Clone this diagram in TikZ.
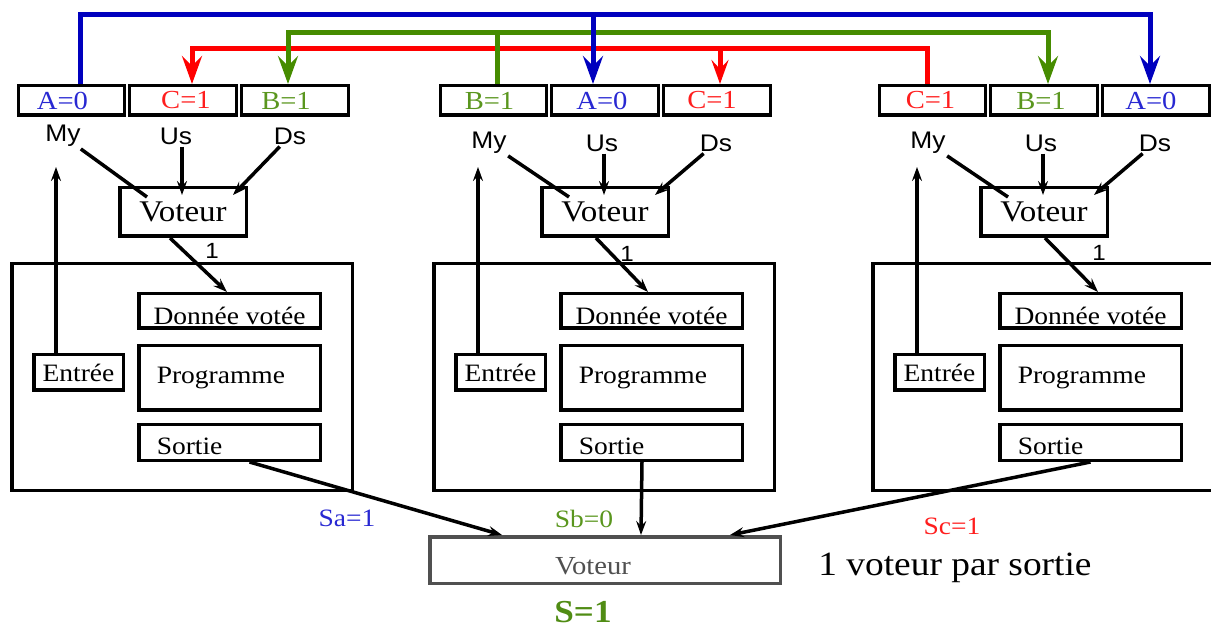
\documentclass[tikz,border=0pt]{standalone}
\usepackage{fontspec}
\setmainfont{Liberation Serif}[FakeStretch=1.1]
\newfontfamily\sansf{Liberation Sans}[FakeStretch=1.1]
\usetikzlibrary{arrows.meta}
\newcommand{\fsz}[1]{\fontsize{#1}{#1}\selectfont}
\definecolor{wblue}{RGB}{0,0,190}
\definecolor{wgreen}{RGB}{70,140,0}
\definecolor{wred}{RGB}{255,0,0}
\definecolor{tblue}{RGB}{40,40,210}
\definecolor{tgreen}{RGB}{90,150,30}
\definecolor{tred}{RGB}{255,30,30}
\definecolor{vgray}{RGB}{80,80,80}
\definecolor{sgreen}{RGB}{80,140,20}
\tikzset{
  bx/.style={draw, line width=3.5pt, inner sep=0pt},
  cell/.style={bx, minimum width=107pt, minimum height=29.5pt, font=\fsz{26}},
  lab/.style={inner sep=2pt, font=\sansf\fsz{24}},
  inner/.style={bx, minimum width=181.5pt, font=\fsz{25}},
  ln/.style={line width=3.5pt},
  arr/.style={line width=3.5pt, -{Stealth[length=14pt,width=10pt,inset=5pt]}},
  wire/.style={line width=5pt},
  bigtip/.tip={Stealth[length=28pt,width=20pt,inset=10pt]},
  midtip/.tip={Stealth[length=24pt,width=17pt,inset=9pt]},
  onelab/.style={inner sep=0pt, font=\sansf\fsz{22}},
  slab/.style={inner sep=0pt, font=\fsz{25}}
}
\newcommand{\vgroup}[7]{%
\begin{scope}[xshift=#2pt]
\node[cell, minimum width=106pt] (#1c1) at (71.5,100.5) {#5};
\node[cell] (#1c2) at (183,100.5) {#6};
\node[cell] (#1c3) at (295,100.5) {#7};
\node[lab] (#1my) at (63+#3,#4) {My};
\node[lab] (#1us) at (176+#3,#4) {Us};
\node[lab] (#1ds) at (290+#3,#4) {Ds};
\node[bx, minimum width=126.5pt, minimum height=48.5pt, font=\fsz{30}] (#1vot) at (183,212) {Voteur};
\node[bx, minimum width=340.5pt, minimum height=226.5pt] (#1main) at (182,377) {};
\node[inner, minimum height=34.5pt, text height=28pt, text depth=0pt] (#1don) at (229.5,311) {Donnée votée};
\node[inner, minimum height=64.5pt, inner xsep=18pt, text width=145.5pt, align=left] (#1prg) at (229.5,378) {Programme};
\node[inner, minimum height=35.5pt, inner xsep=18pt, text width=145.5pt, align=left, text height=24.5pt, text depth=0pt] (#1sor) at (229.5,442.5) {Sortie};
\node[bx, minimum width=89.5pt, minimum height=35.5pt, font=\fsz{25}] (#1ent) at (78.5,372.5) {Entrée};
\coordinate (#1myend) at (147,197);
\coordinate (#1usend) at (182,195);
\coordinate (#1dsend) at (233,195);
\coordinate (#1enttip) at (56,167);
\draw[ln] (#1my) -- (#1myend);
\draw[arr] (#1us.south -| #1usend) -- (#1usend);
\draw[arr] (#1ds) -- (#1dsend);
\draw[arr] (#1ent.north -| #1enttip) -- (#1enttip);
\end{scope}}
\begin{document}
\begin{tikzpicture}[x=1pt,y=-1pt]
\useasboundingbox (0,0) rectangle (1211,628);
\vgroup{ga-}{0}{0}{136}{\color{tblue}A=0\hspace*{18pt}}{\color{tred}\hspace*{6pt}C=1}{\color{tgreen}B=1\hspace*{18pt}}
\vgroup{gb-}{422}{4}{143}{\color{tgreen}B=1\hspace*{8pt}}{\color{tblue}A=0\hspace*{6pt}}{\color{tred}C=1\hspace*{10pt}}
\vgroup{gc-}{861}{4}{143}{\color{tred}C=1\hspace*{4pt}}{\color{tgreen}B=1\hspace*{6pt}}{\color{tblue}A=0\hspace*{10pt}}
% voter -> donnee votee
\draw[arr] ([xshift=-13pt]ga-vot.south) -- ([xshift=-2.5pt]ga-don.north);
\draw[arr] ([xshift=-9pt]gb-vot.south) -- ([xshift=-3.5pt]gb-don.north);
\draw[arr] ([xshift=1pt]gc-vot.south) -- ([xshift=7.5pt]gc-don.north);
\node[onelab] (ga-one) at (212,251) {1};
\node[onelab] (gb-one) at (627,254) {1};
\node[onelab] (gc-one) at (1099,253) {1};
% coloured wires
\coordinate (rj) at (720,49);
\coordinate (gj) at (497,33);
\coordinate (bj) at (593,15);
\draw[wire, wred, -{bigtip}] (gc-c1.north -| 927,0) |- (192,49) -- (ga-c2.north -| 192,0);
\draw[wire, wred, -{midtip}] (rj) -- (gb-c3.north -| rj);
\draw[wire, wgreen, {bigtip}-{bigtip}] (ga-c3.north -| 288,0) |- (1048,33) -- (gc-c2.north -| 1048,0);
\draw[wire, wgreen] (gb-c1.north -| gj) -- (gj);
\draw[wire, wblue, -{bigtip}] (ga-c1.north -| 80,0) |- (1150,15) -- (gc-c3.north -| 1150,0);
\draw[wire, wblue, -{bigtip}] (bj) -- (gb-c2.north -| bj);
% bottom voter
\node[bx, draw=vgray, minimum width=350.5pt, minimum height=46.5pt] (bv) at (605,560) {};
\node[inner sep=0pt, font=\fsz{26}, text=vgray] (bvt) at (593,566) {Voteur};
\draw[arr] ([xshift=20pt]ga-sor.south) -- ([xshift=-103pt]bv.north);
\draw[arr] ([xshift=-9.5pt]gb-sor.south) -- ([xshift=36pt]bv.north);
\draw[arr] (gc-sor.south) -- ([xshift=125pt]bv.north);
\node[slab, text=tblue] (sa) at (347,518) {Sa=1};
\node[slab, text=tgreen] (sb) at (584,519) {Sb=0};
\node[slab, text=tred] (sc) at (952,526) {Sc=1};
\node[inner sep=0pt, font=\fsz{34}] (note) at (955,568) {1 voteur par sortie};
\node[inner sep=0pt, font=\bfseries\fsz{32}, text=sgreen] (s) at (583,612) {S=1};
\end{tikzpicture}
\end{document}
